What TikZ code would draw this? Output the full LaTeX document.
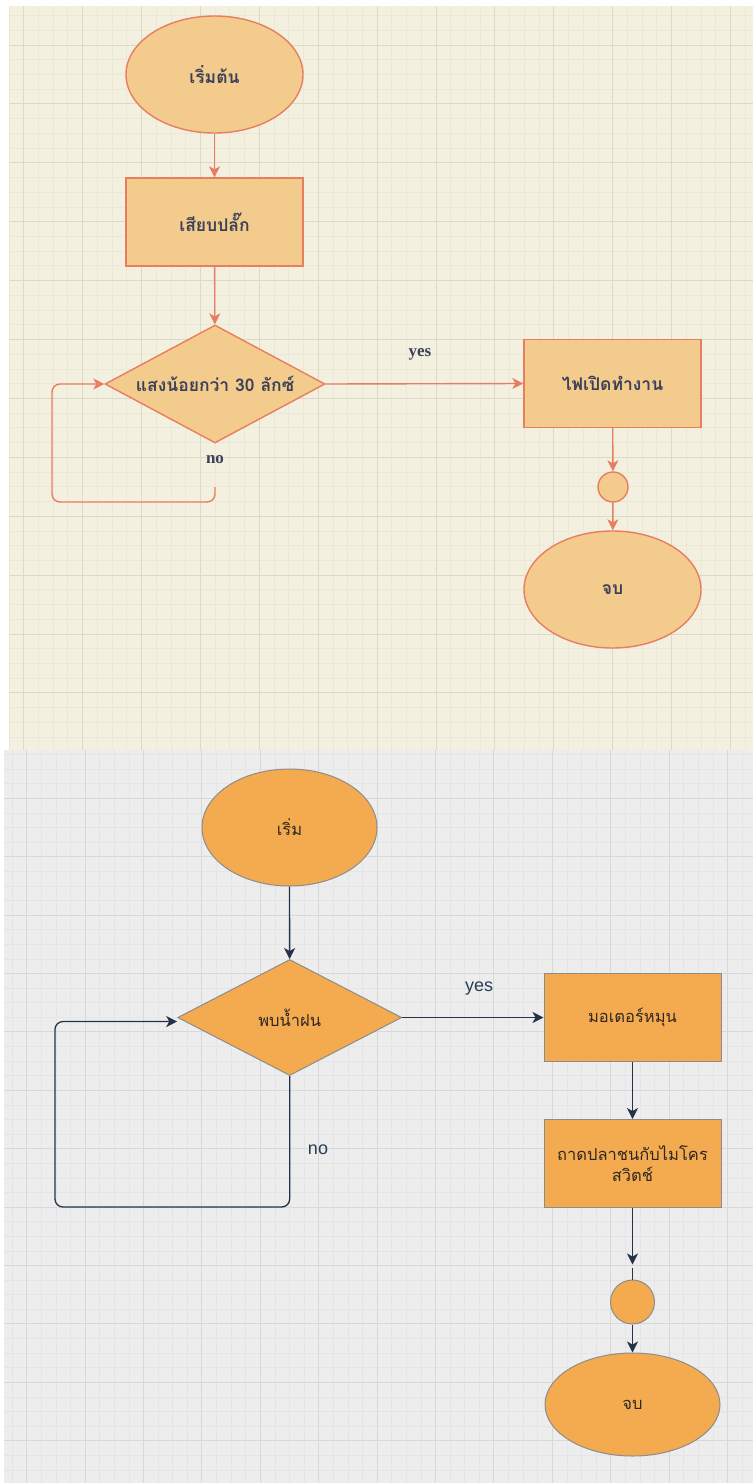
\documentclass[tikz,border=0pt]{standalone}
\usepackage{fontspec}
\setmainfont{Liberation Sans}
\newfontfamily\thaifont[Script=Thai]{Loma}
\newfontfamily\serifb{Liberation Serif}
\usetikzlibrary{shapes.geometric,arrows.meta}
\definecolor{bgA}{RGB}{243,240,223}
\definecolor{gminA}{RGB}{235,232,214}
\definecolor{gmajA}{RGB}{221,217,201}
\definecolor{bgB}{RGB}{237,237,237}
\definecolor{gminB}{RGB}{229,229,229}
\definecolor{gmajB}{RGB}{216,216,216}
\definecolor{fillA}{RGB}{242,203,141}
\definecolor{strokeA}{RGB}{232,125,97}
\definecolor{txtA}{RGB}{59,65,88}
\definecolor{fillB}{RGB}{244,170,78}
\definecolor{strokeB}{RGB}{140,140,140}
\definecolor{lineB}{RGB}{35,52,72}
\definecolor{txtB}{RGB}{45,40,35}
\definecolor{lblB}{RGB}{40,60,85}
\tikzset{
  shpA/.style={draw=strokeA, fill=fillA, line width=1.4pt, inner sep=0pt,
    text=txtA, font=\thaifont\bfseries\fontsize{17.5}{20}\selectfont},
  ellA/.style={shpA, ellipse, minimum width=177pt, minimum height=117pt},
  boxA/.style={shpA, rectangle, minimum width=177pt, minimum height=88pt},
  diaA/.style={shpA, diamond, aspect=1.9, minimum width=220pt, minimum height=118pt},
  dotA/.style={shpA, circle, minimum size=30pt},
  arrA/.style={draw=strokeA, line width=1.4pt, -{Stealth[length=11pt,width=11pt,inset=3pt]}},
  lblA/.style={text=txtA, font=\serifb\bfseries\fontsize{17}{19}\selectfont, inner sep=1pt},
  shpB/.style={draw=strokeB, fill=fillB, line width=1pt, inner sep=0pt,
    text=txtB, font=\thaifont\fontsize{16.5}{21}\selectfont, align=center},
  ellB/.style={shpB, ellipse, minimum width=175pt, minimum height=117pt},
  ellBb/.style={shpB, ellipse, minimum width=175pt, minimum height=103pt},
  boxB/.style={shpB, rectangle, minimum width=177pt, minimum height=88pt},
  diaB/.style={shpB, diamond, aspect=1.9, minimum width=224pt, minimum height=116pt},
  dotB/.style={shpB, circle, minimum size=44pt},
  arrB/.style={draw=lineB, line width=1.3pt, -{Stealth[length=11pt,width=11pt,inset=3pt]}},
  lblB/.style={text=lblB, font=\fontsize{18}{21}\selectfont, inner sep=1pt},
}
\begin{document}
\begin{tikzpicture}[x=1pt,y=-1pt]
\useasboundingbox (0,0) rectangle (753,1483);
\fill[white] (0,0) rectangle (753,1483);
% ---------- top panel background + grid
\fill[bgA] (9,6) rectangle (753,750);
\begin{scope}
\clip (9,6) rectangle (753,750);
\foreach \i in {-1,...,49}{
  \pgfmathtruncatemacro\m{mod(\i+100,4)}
  \ifnum\m=0\relax\else
  \draw[gminA, line width=0.8pt] ({23.7+14.725*\i},6) -- ({23.7+14.725*\i},750);\fi}
\foreach \j in {-2,...,47}{
  \pgfmathtruncatemacro\m{mod(\j+100,4)}
  \ifnum\m=0\relax\else
  \draw[gminA, line width=0.8pt] (9,{45+14.725*\j}) -- (753,{45+14.725*\j});\fi}
\foreach \i in {0,4,...,48}{
  \draw[gmajA, line width=1pt] ({23.7+14.725*\i},6) -- ({23.7+14.725*\i},750);}
\foreach \j in {0,4,...,44}{
  \draw[gmajA, line width=1pt] (9,{45+14.725*\j}) -- (753,{45+14.725*\j});}
\end{scope}
% ---------- bottom panel background + grid
\fill[bgB] (4,750) rectangle (753,1483);
\begin{scope}
\clip (4,750) rectangle (753,1483);
\foreach \i in {-1,...,49}{
  \pgfmathtruncatemacro\m{mod(\i+100,4)}
  \ifnum\m=0\relax\else
  \draw[gminB, line width=0.8pt] ({26.7+14.6*\i},750) -- ({26.7+14.6*\i},1483);\fi}
\foreach \j in {-3,...,47}{
  \pgfmathtruncatemacro\m{mod(\j+100,4)}
  \ifnum\m=0\relax\else
  \draw[gminB, line width=0.8pt] (4,{798.3+14.6*\j}) -- (753,{798.3+14.6*\j});\fi}
\foreach \i in {0,4,...,48}{
  \draw[gmajB, line width=1pt] ({26.7+14.6*\i},750) -- ({26.7+14.6*\i},1483);}
\foreach \j in {0,4,...,44}{
  \draw[gmajB, line width=1pt] (4,{798.3+14.6*\j}) -- (753,{798.3+14.6*\j});}
\end{scope}

% ---------- top flowchart
\node[ellA] (sA) at (214.5,74.5) {เริ่มต้น};
\node[boxA] (pA) at (214.5,222) {เสียบปลั๊ก};
\node[diaA] (dA) at (215,384) {แสงน้อยกว่า 30 ลักซ์};
\node[boxA] (rA) at (612.5,383.5) {ไฟเปิดทำงาน};
\node[dotA] (cA) at (613,487) {};
\node[ellA] (eA) at (612.5,589.5) {จบ};
\node[lblA] (yesA) at (420,354) {yes};
\node[lblA] (noA) at (215,460) {no};
\coordinate (noAstart) at (215,487);
\coordinate (loopA) at (52,502);
\draw[arrA] (sA) -- (pA);
\draw[arrA] (pA) -- (dA);
\draw[arrA] (dA.east) -- (rA.west);
\draw[arrA] (rA) -- (cA);
\draw[arrA] (cA) -- (eA);
\draw[arrA, rounded corners=8pt] (noAstart) |- (loopA) |- (dA.west);

% ---------- bottom flowchart
\node[ellB] (sB) at (289.5,827.5) {เริ่ม};
\node[diaB] (dB) at (289.7,1017.5) {พบน้ำฝน};
\node[boxB] (rB) at (632.5,1017.5) {มอเตอร์หมุน};
\node[boxB] (tB) at (632.5,1163.5) {ถาดปลาชนกับไมโคร\\สวิตช์};
\node[dotB] (cB) at (632.5,1302) {};
\node[ellBb] (eB) at (632.5,1404.5) {จบ};
\node[lblB] (yesB) at (479,989) {yes};
\node[lblB] (noB) at (318,1150) {no};
\coordinate (loopB) at (55,1207);
\draw[arrB] (sB) -- (dB);
\draw[arrB] (dB.east) -- (rB.west);
\draw[arrB] (rB) -- (tB);
\draw[arrB, shorten >=15pt] (tB.south) -- (cB.north);
\draw[draw=lineB, line width=1.3pt] ([yshift=12pt]cB.north) -- (cB.north);
\draw[arrB] (cB) -- (eB);
\draw[arrB, rounded corners=8pt] (dB.south) |- (loopB) |- ([yshift=-4pt]dB.west);
\end{tikzpicture}
\end{document}
